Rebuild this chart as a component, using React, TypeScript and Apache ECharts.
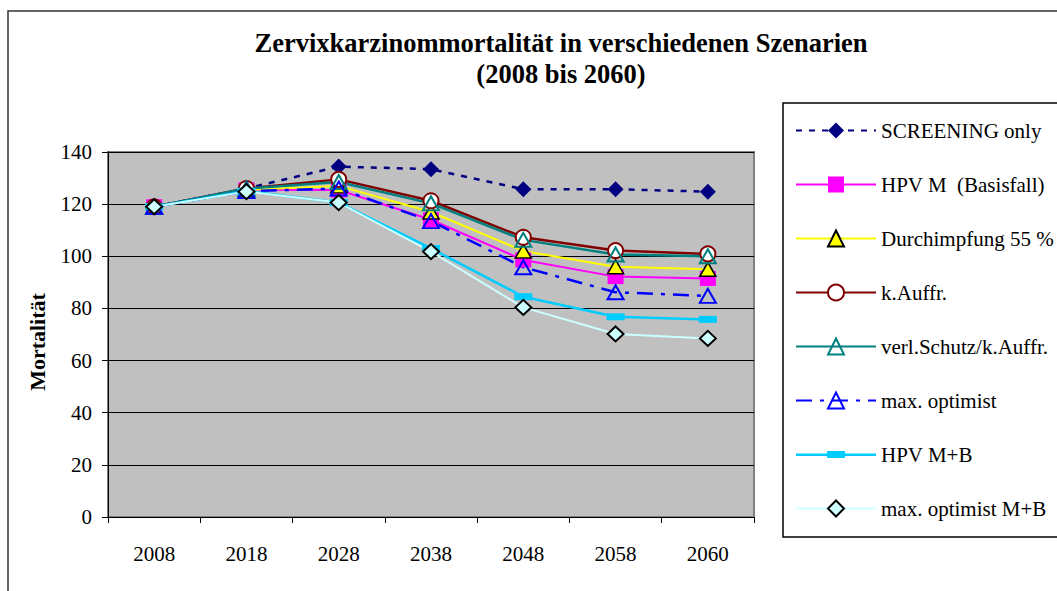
import React, { useEffect, useRef } from "react";
import * as echarts from "echarts";

const categories = ["2008", "2018", "2028", "2038", "2048", "2058", "2060"];
const screeningOnly = [119, 126, 134.4, 133.4, 125.7, 125.7, 124.8];
const hpvM = [119, 125.5, 125.4, 114, 98.6, 92.2, 91.5];
const durchimpfung55 = [119, 125.5, 127, 117, 102, 96, 95];
const kAuffr = [119, 126, 129.5, 121.3, 107.3, 102.2, 100.9];
const verlSchutz = [119, 126, 128.5, 120.3, 106.3, 100.7, 100];
const maxOptimist = [119, 125, 126, 113.5, 95.8, 86.2, 84.8];
const hpvMB = [119, 125, 120.6, 103, 84.5, 76.8, 75.8];
const maxOptimistMB = [119, 124.8, 120.6, 101.8, 80.4, 70.2, 68.5];

const yTicks = [0, 140, 20];
const seriesNames = [
  "SCREENING only",
  "HPV M  (Basisfall)",
  "Durchimpfung 55 %",
  "k.Auffr.",
  "verl.Schutz/k.Auffr.",
  "max. optimist",
  "HPV M+B",
  "max. optimist M+B",
];

const FONT = '"Liberation Serif", "Times New Roman", serif';

export default function App() {
  const ref = useRef<HTMLDivElement>(null);
  useEffect(() => {
    if (!ref.current) return;
    const chart = echarts.init(ref.current, null, { renderer: "svg" });
    const option: any = {
      animation: false,
      backgroundColor: "#ffffff",
      textStyle: { fontFamily: FONT, color: "#000" },
      title: {
        text: "Zervixkarzinommortalität in verschiedenen Szenarien\n(2008 bis 2060)",
        left: 561,
        top: 27,
        padding: 0,
        textAlign: "center",
        textStyle: {
          fontFamily: FONT,
          fontWeight: "bold",
          fontSize: 26.5,
          lineHeight: 31,
          color: "#000",
        },
      },
      graphic: [
        {
          type: "rect",
          shape: { x: 8, y: 11, width: 1200, height: 700 },
          style: { fill: "none", stroke: "#333333", lineWidth: 1.5 },
          silent: true,
        },
      ],
      grid: {
        left: 108,
        top: 152,
        width: 646,
        height: 365,
        show: true,
        backgroundColor: "#C0C0C0",
        borderColor: "#808080",
        borderWidth: 2,
      },
      legend: {
        orient: "vertical",
        left: 783,
        top: 103,
        padding: [17, 40, 18, 12],
        itemWidth: 80,
        itemHeight: 20,
        itemGap: 33,
        borderColor: "#000",
        borderWidth: 1.5,
        backgroundColor: "#fff",
        textStyle: { fontFamily: FONT, fontSize: 21, color: "#000" },
        data: seriesNames.map((n, i) =>
          i === 6
            ? { name: n, icon: "path://M0,9L80,9L80,11.5L0,11.5Z M31,6.5L49,6.5L49,13.5L31,13.5Z" }
            : { name: n }
        ),
      },
      xAxis: {
        type: "category",
        data: categories,
        boundaryGap: true,
        axisLine: { lineStyle: { color: "#000", width: 1 } },
        axisTick: { show: true, inside: false, length: 6, lineStyle: { color: "#000" } },
        axisLabel: { fontFamily: FONT, fontSize: 21, color: "#000", margin: 26 },
        splitLine: { show: false },
      },
      yAxis: {
        type: "value",
        min: yTicks[0],
        max: yTicks[1],
        interval: yTicks[2],
        name: "Mortalität",
        nameLocation: "middle",
        nameRotate: 90,
        nameGap: 60,
        nameTextStyle: {
          fontFamily: FONT,
          fontSize: 22,
          fontWeight: "bold",
          color: "#000",
          padding: [0, 15, 0, 0],
        },
        axisLine: { show: true, lineStyle: { color: "#000", width: 1 } },
        axisTick: { show: true, inside: false, length: 6, lineStyle: { color: "#000" } },
        axisLabel: { fontFamily: FONT, fontSize: 21, color: "#000", margin: 16 },
        splitLine: { show: true, lineStyle: { color: "#000", width: 1 } },
      },
      series: [
        {
          name: seriesNames[0],
          type: "line",
          data: screeningOnly,
          symbol: "diamond",
          symbolSize: [16, 16],
          lineStyle: { color: "#000080", width: 2.5, type: [6, 7] },
          itemStyle: { color: "#000080" },
        },
        {
          name: seriesNames[1],
          type: "line",
          data: hpvM,
          symbol: "rect",
          symbolSize: [16, 15],
          lineStyle: { color: "#FF00FF", width: 2 },
          itemStyle: { color: "#FF00FF" },
        },
        {
          name: seriesNames[2],
          type: "line",
          data: durchimpfung55,
          symbol: "triangle",
          symbolSize: [16, 14],
          lineStyle: { color: "#FFFF00", width: 2 },
          itemStyle: { color: "#FFFF00", borderColor: "#000", borderWidth: 1.5 },
        },
        {
          name: seriesNames[3],
          type: "line",
          data: kAuffr,
          symbol: "circle",
          symbolSize: 15,
          lineStyle: { color: "#800000", width: 2.5 },
          itemStyle: { color: "#ffffff", borderColor: "#800000", borderWidth: 2 },
        },
        {
          name: seriesNames[4],
          type: "line",
          data: verlSchutz,
          symbol: "triangle",
          symbolSize: [16, 14],
          lineStyle: { color: "#008080", width: 2.5 },
          itemStyle: { color: "transparent", borderColor: "#008080", borderWidth: 2 },
        },
        {
          name: seriesNames[5],
          type: "line",
          data: maxOptimist,
          symbol: "triangle",
          symbolSize: [16, 14],
          lineStyle: { color: "#0000FF", width: 2.5, type: [16, 8, 4, 8] },
          itemStyle: { color: "transparent", borderColor: "#0000FF", borderWidth: 2 },
        },
        {
          name: seriesNames[6],
          type: "line",
          data: hpvMB,
          symbol: "rect",
          symbolSize: [18, 7],
          lineStyle: { color: "#00CCFF", width: 2.5 },
          itemStyle: { color: "#00CCFF" },
        },
        {
          name: seriesNames[7],
          type: "line",
          data: maxOptimistMB,
          symbol: "diamond",
          symbolSize: [16, 15],
          lineStyle: { color: "#CCFFFF", width: 2 },
          itemStyle: { color: "#CCFFFF", borderColor: "#000", borderWidth: 2 },
        },
      ],
    };
    chart.setOption(option);
    return () => chart.dispose();
  }, []);
  return (
    <div
      ref={ref}
      style={{ position: "fixed", left: 0, top: 0, width: 1057, height: 591 }}
    />
  );
}
